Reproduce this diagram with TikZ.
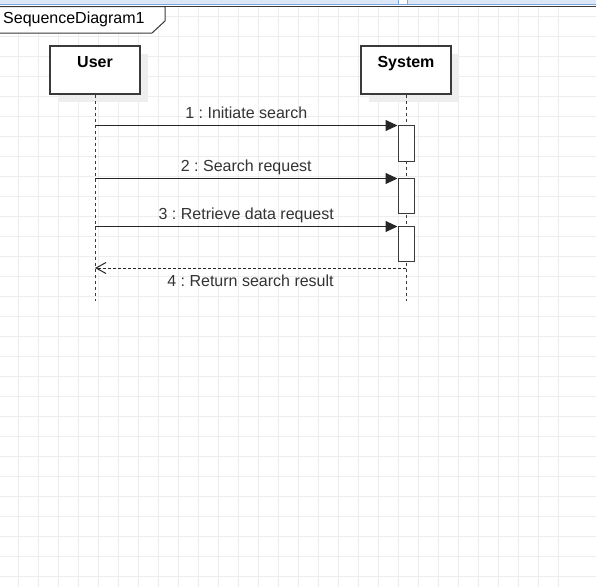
\documentclass[tikz,border=0pt]{standalone}
\usepackage{fontspec}
\setmainfont{Liberation Sans}
\usetikzlibrary{arrows.meta,positioning,shadows}
\definecolor{gridgray}{HTML}{EDEDED}
\definecolor{shadowgray}{HTML}{EEEEEE}
\definecolor{linegray}{HTML}{3A3A3A}
\definecolor{barblue}{HTML}{7EA6E0}
\definecolor{barfill}{HTML}{DCE8F8}
\frenchspacing

\tikzset{
  actor/.style={draw=linegray, line width=1.2pt, fill=white, minimum width=90pt, minimum height=48pt, inner sep=0pt,
    drop shadow={shadow xshift=8pt, shadow yshift=-8pt, fill=shadowgray, opacity=1}},
  actorname/.style={inner sep=0pt, font=\fontsize{16}{19}\selectfont\bfseries},
  lifeline/.style={draw=linegray, line width=1pt, dash pattern=on 3pt off 3pt},
  activation/.style={draw=linegray, line width=1pt, fill=white, minimum width=16pt, inner sep=0pt},
  msg/.style={draw=black!85, line width=1pt, -{Triangle[length=12pt,width=11pt]}},
  reply/.style={draw=black!85, line width=1pt, dash pattern=on 3pt off 2pt, -{Straight Barb[length=10pt,width=11pt]}},
  msglabel/.style={inner sep=0pt, text height=11.5pt, text depth=0pt, text=black!80, font=\fontsize{16}{19}\selectfont}
}

\begin{document}
\begin{tikzpicture}[x=1pt, y=-1pt]
  \useasboundingbox (0,0) rectangle (596,587);
  \fill[white] (0,0) rectangle (596,587);
  % grid
  \foreach \y in {16,36,...,576} {
    \draw[gridgray, line width=0.9pt] (0,\y) -- (596,\y);
  }
  \foreach \x in {18,38,...,558} {
    \draw[gridgray, line width=0.9pt] (\x,7) -- (\x,587);
  }
  % top bar and frame
  \fill[barfill] (0,0) rectangle (596,4);
  \draw[barblue, line width=1.2pt] (0,4.4) -- (596,4.4);
  \filldraw[fill=white, draw=barblue, line width=1pt] (398,-1) rectangle (407,4.4);
  \draw[linegray, line width=1pt] (-1,6.5) -- (596,6.5);
  \filldraw[fill=white, draw=linegray, line width=1pt] (-1,6.5) -- (165,6.5) -- (165,21) -- (152,33) -- (-1,33) -- cycle;
  \node[anchor=west, inner sep=0pt, font=\fontsize{16}{19}\selectfont] (frame) at (3,19.5) {SequenceDiagram1};

  % actors
  \node[actor] (user) at (95,70) {};
  \node[actor] (system) at (406,70) {};
  \node[actorname, below=10.5pt of user.north] (username) {User};
  \node[actorname, below=10.5pt of system.north] (systemname) {System};
  \coordinate (userend) at (95,301);
  \coordinate (systemend) at (406,301);
  \draw[lifeline] (user) -- (userend);
  \draw[lifeline] (system) -- (systemend);

  % activations
  \node[activation, minimum height=36pt] (act1) at (406,143) {};
  \node[activation, minimum height=35pt] (act2) at (406,195.5) {};
  \node[activation, minimum height=35pt] (act3) at (406,243.5) {};

  % messages
  \coordinate (m1) at (95,125.5);
  \coordinate (m2) at (95,178.5);
  \coordinate (m3) at (95,226.5);
  \coordinate (m4) at (406,268);
  \draw[msg] (m1) -- (m1 -| act1.west) node[msglabel, midway, above=7pt] {1 : Initiate search};
  \draw[msg] (m2) -- (m2 -| act2.west) node[msglabel, midway, above=7pt] {2 : Search request};
  \draw[msg] (m3) -- (m3 -| act3.west) node[msglabel, midway, above=7pt] {3 : Retrieve data request};
  \draw[reply] (m4) -- (m4 -| userend) node[msglabel, midway, below=6pt] {4 : Return search result};
\end{tikzpicture}
\end{document}
